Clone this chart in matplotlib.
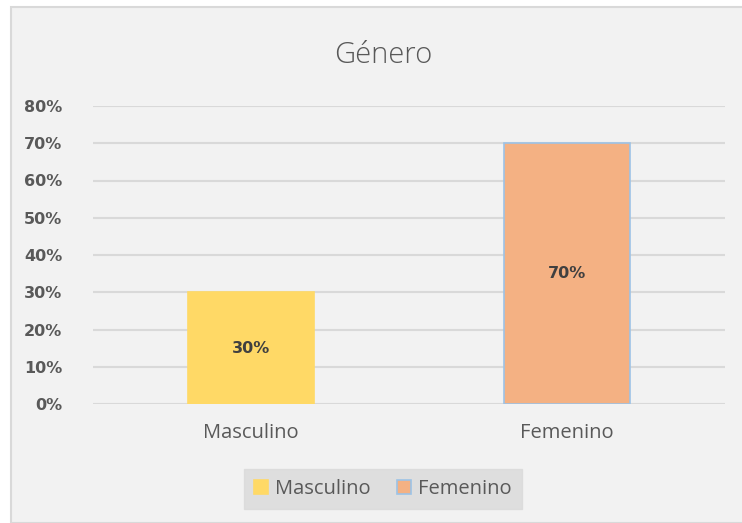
import matplotlib.pyplot as plt
from matplotlib.patches import Rectangle
from matplotlib.ticker import PercentFormatter

# data
categories = ['Masculino', 'Femenino']
values = [30, 70]
colors = ['#ffd966', '#f4b183']
edges = ['#ffd966', '#9dc3e6']
yticks = [0, 10, 20, 30, 40, 50, 60, 70, 80]

plt.rcParams['font.family'] = ['Open Sans', 'DejaVu Sans']
plt.rcParams['font.stretch'] = 'normal'
text_gray = '#595959'
bold_font = ['DejaVu Sans']

fig = plt.figure(figsize=(7.42, 5.23), dpi=100)
fig.patch.set_facecolor('white')

# chart frame
frame = Rectangle((11 / 742, 0), 1.0, 1 - 7 / 523, transform=fig.transFigure,
                  facecolor='#f2f2f2', edgecolor='#d9d9d9', linewidth=1.5, zorder=-5)
fig.patches.append(frame)

ax = fig.add_axes([93 / 742, 1 - 404 / 523, (725 - 93) / 742, (404 - 106) / 523])
ax.patch.set_alpha(0)

x = range(len(categories))
bars = ax.bar(x, values, width=0.40, color=colors, edgecolor=edges, linewidth=1.2, zorder=3,
              label=categories)

for b, v in zip(bars, values):
    ax.text(b.get_x() + b.get_width() / 2, v / 2, f'{v}%', ha='center', va='center',
            fontsize=11.5, fontweight='bold', family=bold_font, color='#404040', zorder=4)

ax.set_xlim(-0.5, 1.5)
ax.set_ylim(0, 80)
ax.set_yticks(yticks)
ax.yaxis.set_major_formatter(PercentFormatter(decimals=0))
ax.set_xticks(list(x))
ax.set_xticklabels(categories)
ax.grid(axis='y', color='#d9d9d9', linewidth=1.5, zorder=0)
ax.set_axisbelow(True)
for s in ax.spines.values():
    s.set_visible(False)
ax.tick_params(axis='both', length=0)
ax.tick_params(axis='y', pad=22, labelsize=11.5, labelcolor=text_gray)
ax.tick_params(axis='x', pad=14, labelsize=14.5, labelcolor=text_gray)
for lbl in ax.get_yticklabels():
    lbl.set_fontweight('bold')
    lbl.set_family(bold_font)

fig.text(383 / 742, 1 - 55 / 523, 'Género', ha='center', va='center', fontsize=21,
         color=text_gray, fontweight='light')

leg = fig.legend(handles=list(bars), labels=categories, loc='center',
                 bbox_to_anchor=(383 / 742, 1 - 489 / 523), ncol=2, frameon=True,
                 fontsize=14.5, handlelength=0.7, handleheight=0.7, handletextpad=0.35,
                 columnspacing=1.3, borderpad=0.5, borderaxespad=0, fancybox=False)
leg.get_frame().set_facecolor('#d9d9d9')
leg.get_frame().set_edgecolor('#d9d9d9')
for t in leg.get_texts():
    t.set_color(text_gray)

fig.savefig('out.png', dpi=100)
